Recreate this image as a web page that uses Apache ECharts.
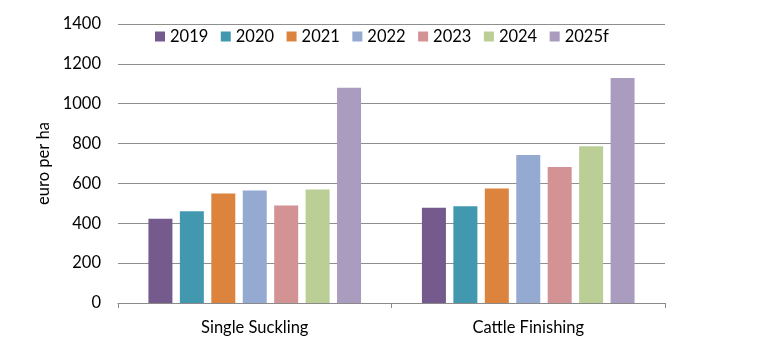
<!DOCTYPE html>
<html><head><meta charset="utf-8">
<script src="https://cdn.jsdelivr.net/npm/echarts@6/dist/echarts.min.js"></script>
<style>html,body{margin:0;padding:0;background:#fff}#c{width:757px;height:356px}</style>
</head><body><div id="c"></div>
<script>
const categories = ["Single Suckling", "Cattle Finishing"];
const seriesNames = ["2019", "2020", "2021", "2022", "2023", "2024", "2025f"];
const v2019 = [423, 478];
const v2020 = [460, 485];
const v2021 = [550, 575];
const v2022 = [565, 743];
const v2023 = [489, 682];
const v2024 = [570, 786];
const v2025f = [1080, 1129];
const values = [v2019, v2020, v2021, v2022, v2023, v2024, v2025f];
const colors = ["#745A8D", "#4299AF", "#DC843E", "#95AAD0", "#D39293", "#BACE96", "#AA9CBF"];
const font = "Lato, 'Open Sans', sans-serif";

const chart = echarts.init(document.getElementById('c'));
chart.setOption({
  animation: false,
  grid: {left: 118, right: 92, top: 24, bottom: 53},
  legend: {
    top: 23, left: 150,
    itemWidth: 10, itemHeight: 10, itemGap: 12.5,
    icon: 'rect',
    textStyle: {fontFamily: font, fontSize: 16.5, color: '#000'},
    data: seriesNames
  },
  xAxis: {
    type: 'category', data: categories,
    axisLine: {lineStyle: {color: '#8a8a8a', width: 1.2}},
    axisTick: {show: true, length: 5, lineStyle: {color: '#8a8a8a'}},
    axisLabel: {fontFamily: font, fontSize: 16.5, color: '#000', margin: 16}
  },
  yAxis: {
    type: 'value', min: 0, max: 1400, interval: 200,
    name: 'euro per ha', nameLocation: 'middle', nameGap: 64,
    nameTextStyle: {fontFamily: font, fontSize: 16.5, color: '#000'},
    axisLine: {show: false}, axisTick: {show: false},
    axisLabel: {fontFamily: font, fontSize: 16.5, color: '#000', margin: 17, formatter: v => String(v)},
    splitLine: {lineStyle: {color: '#8e8e8e', width: 1.2}}
  },
  series: seriesNames.map((n, i) => ({
    name: n, type: 'bar', data: values[i],
    barWidth: 24, barGap: '31%',
    itemStyle: {color: colors[i]}
  }))
});
</script></body></html>
